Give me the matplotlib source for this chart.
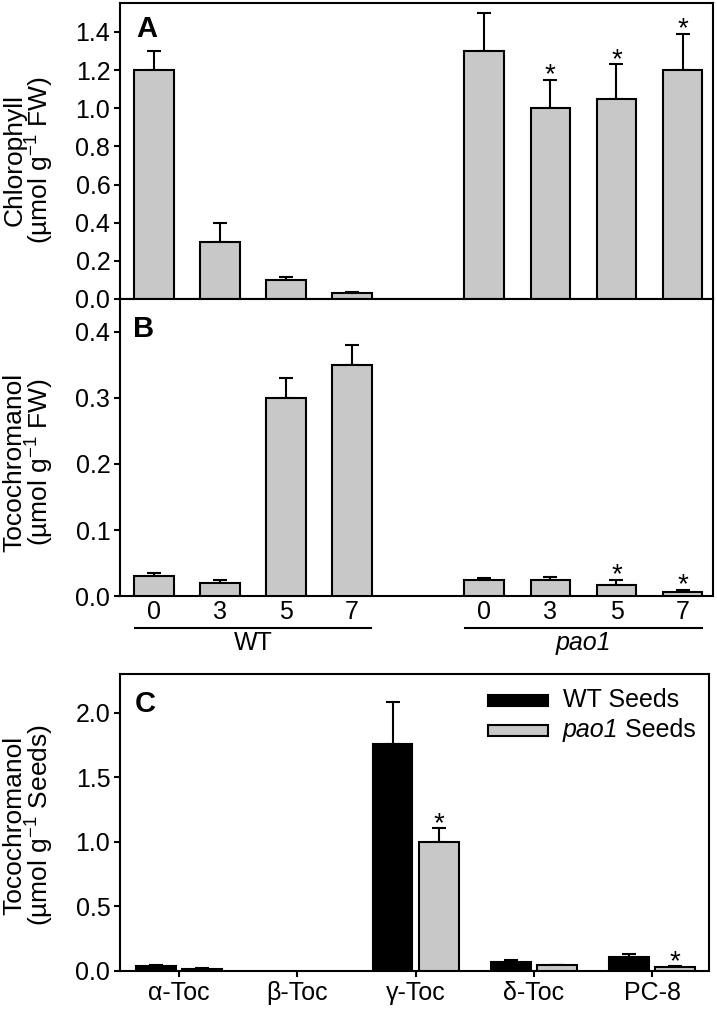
import numpy as np
import matplotlib
matplotlib.use("Agg")
import matplotlib.pyplot as plt
from matplotlib.patches import Rectangle
import matplotlib.transforms as mtrans

plt.rcParams['font.family'] = ['Liberation Sans', 'DejaVu Sans']
plt.rcParams['mathtext.fontset'] = 'custom'
plt.rcParams['mathtext.rm'] = 'Liberation Sans'
plt.rcParams['mathtext.it'] = 'Liberation Sans:italic'
plt.rcParams['mathtext.bf'] = 'Liberation Sans:bold'

# ---------------- data ----------------
days = ["0", "3", "5", "7"]
genotypes = ["WT", "pao1"]

chl_wt = [1.20, 0.30, 0.10, 0.03]
chl_wt_err = [0.10, 0.10, 0.017, 0.008]
chl_pao = [1.30, 1.00, 1.05, 1.20]
chl_pao_err = [0.20, 0.15, 0.18, 0.19]
chl_pao_sig = [False, True, True, True]

toc_wt = [0.030, 0.020, 0.300, 0.350]
toc_wt_err = [0.005, 0.005, 0.030, 0.030]
toc_pao = [0.025, 0.024, 0.016, 0.0056]
toc_pao_err = [0.003, 0.005, 0.009, 0.004]
toc_pao_sig = [False, False, True, True]

seed_cats = ["α-Toc", "β-Toc", "γ-Toc", "δ-Toc", "PC-8"]
seed_series = ["WT", "pao1"]
seed_wt = [0.039, np.nan, 1.757, 0.067, 0.108]
seed_wt_err = [0.011, np.nan, 0.33, 0.016, 0.022]
seed_pao = [0.018, np.nan, 1.00, 0.045, 0.028]
seed_pao_err = [0.005, np.nan, 0.106, 0.002, 0.009]
seed_pao_sig = [False, False, True, False, True]

# ---------------- style ----------------
GRAY = '#c8c8c8'
LW = 1.5
TICK_FS = 18
LABEL_FS = 19
TEXT_FS = 18
STAR_FS = 20

W, H = 717, 1009
fig = plt.figure(figsize=(W / 100, H / 100), dpi=100)
axA = fig.add_axes([120 / W, 1 - 299 / H, 593 / W, 296 / H])
axB = fig.add_axes([120 / W, 1 - 596 / H, 593 / W, 297 / H])
axC = fig.add_axes([120 / W, 1 - 971 / H, 589 / W, 297 / H])

for ax in (axA, axB, axC):
    for s in ax.spines.values():
        s.set_linewidth(LW)
    ax.tick_params(axis='y', direction='out', length=4, width=LW,
                   labelsize=TICK_FS, pad=3)

x_wt = np.arange(len(days))
x_pao = np.arange(len(days)) + len(days) + 1
bw = 0.6
err_kw = dict(fmt='none', ecolor='black', elinewidth=LW, capsize=4.7,
              capthick=LW, zorder=2)


def star(ax, x, y):
    ax.annotate('*', xy=(x, y), xytext=(0, -2), textcoords='offset points',
                ha='center', va='baseline', fontsize=STAR_FS)


def timecourse(ax, wt, wt_e, pao, pao_e, sig):
    ax.bar(x_wt, wt, width=bw, color=GRAY, edgecolor='black', linewidth=LW, zorder=3)
    ax.bar(x_pao, pao, width=bw, color=GRAY, edgecolor='black', linewidth=LW, zorder=3)
    ax.errorbar(x_wt, wt, yerr=[np.zeros(len(wt)), wt_e], **err_kw)
    ax.errorbar(x_pao, pao, yerr=[np.zeros(len(pao)), pao_e], **err_kw)
    for xi, v, e, s in zip(x_pao, pao, pao_e, sig):
        if s:
            star(ax, xi, v + e)
    ax.set_xlim(-0.51, 8.46)


def ylab(ax, text, y):
    ax.set_ylabel(text, fontsize=LABEL_FS, linespacing=0.88)
    # right edge of the label box at ~56 px from the figure's left edge
    w_px = ax.get_position().width * W
    ax.yaxis.set_label_coords(-(120 - 56) / w_px, y)


# Panel A
timecourse(axA, chl_wt, chl_wt_err, chl_pao, chl_pao_err, chl_pao_sig)
axA.set_ylim(0, 1.552)
ta = np.arange(0, 1.41, 0.2)
axA.set_yticks(ta)
axA.set_yticklabels([f"{v:.1f}" for v in ta])
axA.set_xticks([])
ylab(axA, "Chlorophyll\n(µmol g$^{-1}$ FW)", 0.47)
axA.text(0.028, 0.96, "A", transform=axA.transAxes, fontsize=21,
         fontweight='bold', va='top', ha='left')

# Panel B
timecourse(axB, toc_wt, toc_wt_err, toc_pao, toc_pao_err, toc_pao_sig)
axB.set_ylim(0, 0.45)
tb = np.arange(0, 0.41, 0.1)
axB.set_yticks(tb)
axB.set_yticklabels([f"{v:.1f}" for v in tb])
axB.set_xticks(list(x_wt) + list(x_pao))
axB.set_xticklabels(days + days)
axB.tick_params(axis='x', length=0, labelsize=TICK_FS, pad=3)
ylab(axB, "Tocochromanol\n(µmol g$^{-1}$ FW)", 0.45)
axB.text(0.022, 0.945, "B", transform=axB.transAxes, fontsize=21,
         fontweight='bold', va='top', ha='left')

trB = mtrans.blended_transform_factory(axB.transData, axB.transAxes)
for xs, name, style in ((x_wt, genotypes[0], 'normal'), (x_pao, genotypes[1], 'italic')):
    x0 = xs[0] - 0.29
    x1 = xs[-1] + 0.29
    axB.plot([x0, x1], [-0.108, -0.108], color='black', lw=LW,
             transform=trB, clip_on=False)
    axB.text((x0 + x1) / 2, -0.158, name, transform=trB, ha='center',
             va='center', fontsize=TEXT_FS, style=style)

# Panel C
xc = np.arange(len(seed_cats))
cbw = 0.335
off = 0.195
axC.bar(xc - off, seed_wt, width=cbw, color='black', edgecolor='black',
        linewidth=LW, zorder=3)
axC.bar(xc + off, seed_pao, width=cbw, color=GRAY, edgecolor='black',
        linewidth=LW, zorder=3)
sw = np.array(seed_wt); swe = np.array(seed_wt_err)
sp = np.array(seed_pao); spe = np.array(seed_pao_err)
mw = ~np.isnan(sw)
mp = ~np.isnan(sp)
axC.errorbar((xc - off)[mw], sw[mw], yerr=[np.zeros(mw.sum()), swe[mw]], **err_kw)
axC.errorbar((xc + off)[mp], sp[mp], yerr=[np.zeros(mp.sum()), spe[mp]], **err_kw)
for xi, v, e, s in zip(xc + off, seed_pao, seed_pao_err, seed_pao_sig):
    if s:
        star(axC, xi, v + e)
axC.set_xlim(-0.5, 4.48)
axC.set_ylim(0, 2.3)
tc = np.arange(0, 2.01, 0.5)
axC.set_yticks(tc)
axC.set_yticklabels([f"{v:.1f}" for v in tc])
axC.set_xticks(xc)
axC.set_xticklabels(seed_cats)
axC.tick_params(axis='x', direction='out', length=4, width=LW,
                labelsize=TICK_FS, pad=3)
ylab(axC, "Tocochromanol\n(µmol g$^{-1}$ Seeds)", 0.49)
axC.text(0.025, 0.945, "C", transform=axC.transAxes, fontsize=21,
         fontweight='bold', va='top', ha='left')

# legend (drawn by hand so that "pao1" can be fully italic)
leg_rows = [(seed_series[0], 'black', 0.912), (seed_series[1], GRAY, 0.811)]
for name, col, yc in leg_rows:
    axC.add_patch(Rectangle((0.625, yc - 0.0185), 0.102, 0.037,
                            transform=axC.transAxes, facecolor=col,
                            edgecolor='black', linewidth=LW, clip_on=False))
    if name == "WT":
        axC.text(0.752, yc, "WT Seeds", transform=axC.transAxes,
                 fontsize=TEXT_FS, va='center', ha='left')
    else:
        t1 = axC.text(0.752, yc, name, transform=axC.transAxes,
                      fontsize=TEXT_FS, va='center', ha='left', style='italic')
        axC.annotate(" Seeds", xy=(1, 0.5), xycoords=t1, fontsize=TEXT_FS,
                     va='center', ha='left')

fig.savefig("out.png", dpi=100)
